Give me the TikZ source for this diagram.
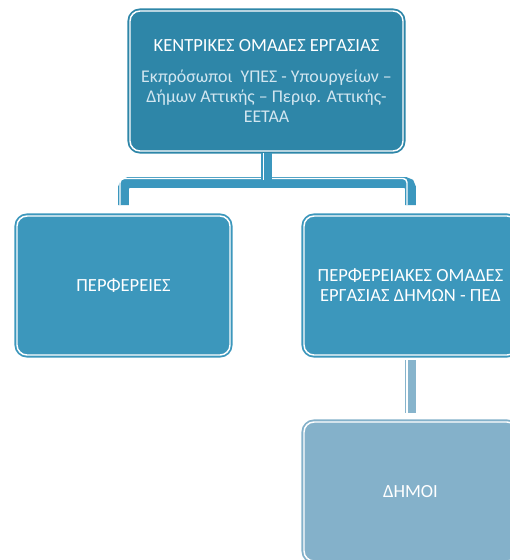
\documentclass[tikz,border=0pt]{standalone}
\usepackage{fontspec}
\setmainfont{Carlito}
\usetikzlibrary{calc}
\definecolor{topfill}{HTML}{2E86A8}
\definecolor{midfill}{HTML}{3C97BC}
\definecolor{lowfill}{HTML}{84B1CA}
\definecolor{connc}{HTML}{3B97BE}
\definecolor{connlow}{HTML}{87B4CC}
\definecolor{subtxt}{HTML}{D2E6F0}
\tikzset{
  px/.style={x=0.75pt,y=-0.75pt},
  card/.style={shape=rectangle, rounded corners=7.5pt, fill=#1, draw=white, line width=1.1pt,
    preaction={draw=#1, line width=3.8pt}, inner sep=0pt, outer sep=0pt,
    text=white, align=center, font=\fontsize{13.9}{15}\selectfont},
  conn/.style={draw=#1, line width=8.2pt, rounded corners=4pt},
  connline/.style={draw=white, line width=1.1pt, rounded corners=3pt},
}
\newcommand{\subfont}{\fontsize{13.4}{15}\selectfont\color{subtxt}}
\begin{document}
\begin{tikzpicture}[px]
\clip (0,0) rectangle (510,560);
\fill[white] (0,0) rectangle (510,560);
% nodes
\node[card=topfill, minimum width=204.75pt, minimum height=105pt] (top) at (266.5,81)
  {ΚΕΝΤΡΙΚΕΣ ΟΜΑΔΕΣ ΕΡΓΑΣΙΑΣ\\[8pt]
   {\subfont Εκπρόσωποι\ \ ΥΠΕΣ - Υπουργείων –}\\
   {\subfont Δήμων Αττικής – Περιφ. Αττικής-}\\
   {\subfont ΕΕΤΑΑ}};
\node[card=midfill, minimum width=159.75pt, minimum height=104.25pt] (left) at (123.5,285.5) {ΠΕΡΦΕΡΕΙΕΣ};
\node[card=midfill, minimum width=159.75pt, minimum height=104.25pt] (right) at (410.5,285.5)
  {ΠΕΡΦΕΡΕΙΑΚΕΣ ΟΜΑΔΕΣ\\ ΕΡΓΑΣΙΑΣ ΔΗΜΩΝ - ΠΕΔ};
\node[card=lowfill, minimum width=159.75pt, minimum height=104.25pt] (low) at (410.5,491.5) {ΔΗΜΟΙ};
% connectors: branch bar
\draw[conn=connc] ($(left.north)+(0,-11)$) -- ($(left.north)+(0,-33.5)$)
  -- ($(right.north)+(0,-33.5)$) -- ($(right.north)+(0,-11)$);
\draw[connline] ($(left.north)+(-3.5,-11)$) -- ($(left.north)+(-3.5,-37.5)$)
  -- ($(right.north)+(-3.5,-37.5)$) -- ($(right.north)+(-3.5,-11)$);
% top stem
\draw[conn=connc, rounded corners=0pt] ($(top.south)+(0,2)$) -- ($(top.south)+(0,33)$);
\draw[connline, rounded corners=0pt] ($(top.south)+(-3,2)$) -- ($(top.south)+(-3,29)$);
% lower stem
\draw[conn=connlow, rounded corners=0pt] ($(right.south)+(0,5)$) -- ($(low.north)+(0,-9)$);
\draw[connline, rounded corners=0pt] ($(right.south)+(-3.5,5)$) -- ($(low.north)+(-3.5,-9)$);
\end{tikzpicture}
\end{document}
